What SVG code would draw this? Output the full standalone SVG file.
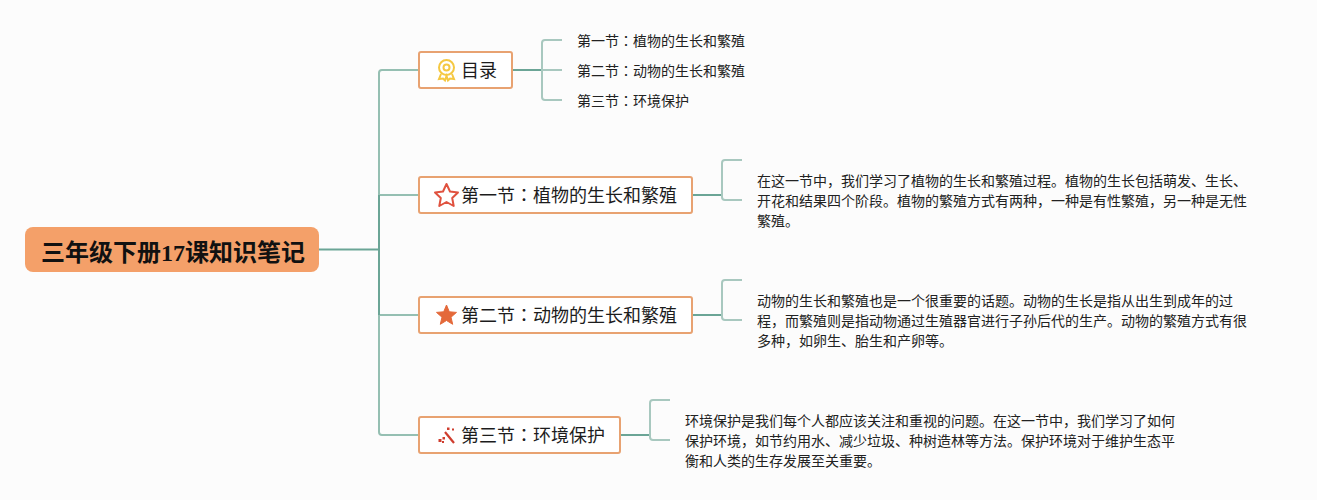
<svg xmlns="http://www.w3.org/2000/svg" width="1317" height="500" viewBox="0 0 1317 500">
<style>
text{font-family:"Noto Sans CJK SC","Liberation Sans",sans-serif;fill:#111}
.leaf{font-size:14px;fill:#222}
.sec{font-size:18px;fill:#1c1c1c}
.colon{font-family:"Noto Sans CJK JP","Liberation Sans",sans-serif}
.box{fill:#fff;stroke:#e8a271;stroke-width:2}
.c1{fill:none;stroke:#95bfb2;stroke-width:2}
.c2{fill:none;stroke:#a8c8bf;stroke-width:2}
.c0{fill:none;stroke:#6ba596;stroke-width:2}
</style>
<rect width="1317" height="500" fill="#fcfcfc"/>
<g id="connectors">
<path class="c1" d="M418 70H382Q379 70 379 73V432Q379 435 382 435H418"/>
<path class="c1" d="M379 195H418M379 315H418"/>
<path class="c0" d="M319 249.500H379M379 195V315"/>
<path class="c0" d="M513 70H542M693 195H722M693 315H722M621 435H650"/>
<path class="c2" d="M562 40H545Q542 40 542 43V97Q542 100 545 100H562M542 70H562"/>
<path class="c2" d="M742 160H725Q722 160 722 163V197Q722 200 725 200H742"/>
<path class="c2" d="M742 280H725Q722 280 722 283V317Q722 320 725 320H742"/>
<path class="c2" d="M670 400H653Q650 400 650 403V437Q650 440 653 440H670"/>
</g>
<g id="root">
<rect x="25" y="227" width="294" height="45" rx="8" fill="#f4a069"/>
<text x="41" y="261" font-size="24" font-weight="700">三年级下册<tspan font-family="'Liberation Serif',serif">17</tspan>课知识笔记</text>
</g>
<g id="node-mulu">
<rect class="box" x="419" y="52" width="93" height="36" rx="2"/>
<g fill="none" stroke="#f5c842" stroke-width="2">
<circle cx="446.500" cy="67.500" r="7.500"/>
<circle cx="446.500" cy="67.500" r="3"/>
<path d="M441 74L439 79L443 78.500L445 80.500L446.500 76L448 80.500L450 78.500L454 79L452 74"/>
</g>
<text class="sec" x="461" y="77">目录</text>
</g>
<g id="node-s1">
<rect class="box" x="419" y="177" width="273" height="36" rx="2"/>
<path d="M446.500 184L450 191.500L458 192.500L452.200 198L453.700 206L446.500 202L439.300 206L440.800 198L435 192.500L443 191.500Z" fill="none" stroke="#e0523f" stroke-width="2" stroke-linejoin="round"/>
<text class="sec" x="461" y="202">第一节<tspan class="colon">：</tspan>植物的生长和繁殖</text>
</g>
<g id="node-s2">
<rect class="box" x="419" y="297" width="273" height="36" rx="2"/>
<path d="M446.500 305L449.300 311.800L456.500 312.400L451 317.200L452.700 324.300L446.500 320.500L440.300 324.300L442 317.200L436.500 312.400L443.700 311.800Z" fill="#e4693a" stroke="#e4693a" stroke-linejoin="round"/>
<text class="sec" x="461" y="322">第二节<tspan class="colon">：</tspan>动物的生长和繁殖</text>
</g>
<g id="node-s3">
<rect class="box" x="419" y="417" width="201" height="36" rx="2"/>
<path d="M445 432L454 443" stroke="#cf3d2e" stroke-width="2.200" fill="none"/>
<g fill="#cf3d2e">
<rect x="438.500" y="439" width="3" height="3"/>
<rect x="442.500" y="437" width="2.500" height="2.500"/>
<rect x="442" y="441" width="2" height="2"/>
<rect x="447" y="427.500" width="2.500" height="2.500"/>
<rect x="452" y="428.500" width="2" height="2"/>
</g>
<text class="sec" x="461" y="442">第三节<tspan class="colon">：</tspan>环境保护</text>
</g>
<g id="leaf-toc">
<text class="leaf" x="577" y="46">第一节<tspan class="colon">：</tspan>植物的生长和繁殖</text>
<text class="leaf" x="577" y="76">第二节<tspan class="colon">：</tspan>动物的生长和繁殖</text>
<text class="leaf" x="577" y="106">第三节<tspan class="colon">：</tspan>环境保护</text>
</g>
<g id="leaf-s1">
<text class="leaf" x="757" y="186">在这一节中，我们学习了植物的生长和繁殖过程。植物的生长包括萌发、生长、</text>
<text class="leaf" x="757" y="206">开花和结果四个阶段。植物的繁殖方式有两种，一种是有性繁殖，另一种是无性</text>
<text class="leaf" x="757" y="226">繁殖。</text>
</g>
<g id="leaf-s2">
<text class="leaf" x="757" y="306">动物的生长和繁殖也是一个很重要的话题。动物的生长是指从出生到成年的过</text>
<text class="leaf" x="757" y="326">程，而繁殖则是指动物通过生殖器官进行子孙后代的生产。动物的繁殖方式有很</text>
<text class="leaf" x="757" y="346">多种，如卵生、胎生和产卵等。</text>
</g>
<g id="leaf-s3">
<text class="leaf" x="685" y="426">环境保护是我们每个人都应该关注和重视的问题。在这一节中，我们学习了如何</text>
<text class="leaf" x="685" y="446">保护环境，如节约用水、减少垃圾、种树造林等方法。保护环境对于维护生态平</text>
<text class="leaf" x="685" y="466">衡和人类的生存发展至关重要。</text>
</g>
</svg>
